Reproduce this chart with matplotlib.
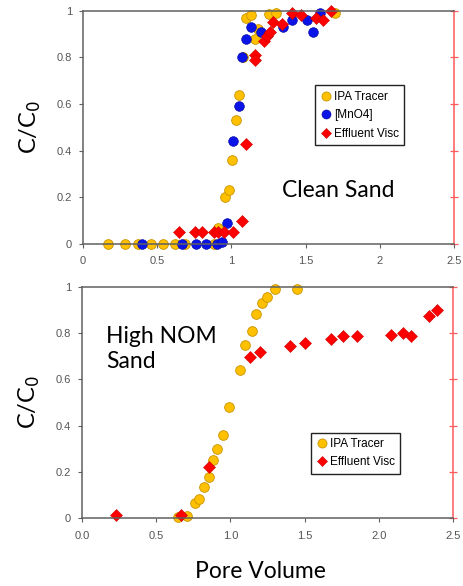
import numpy as np
import matplotlib
matplotlib.use("Agg")
import matplotlib.pyplot as plt
from matplotlib.lines import Line2D

# ---- data ----
# top panel: clean sand
ipa_clean_x = [0.17, 0.28, 0.37, 0.46, 0.54, 0.62, 0.69, 0.88, 0.91, 0.96, 0.985, 1.007,
               1.03, 1.054, 1.08, 1.10, 1.13, 1.16, 1.18, 1.25, 1.30, 1.70]
ipa_clean_y = [0.0, 0.0, 0.0, 0.0, 0.0, 0.0, 0.0, 0.0, 0.07, 0.20, 0.23, 0.36,
               0.53, 0.64, 0.80, 0.97, 0.98, 0.88, 0.92, 0.985, 0.99, 0.99]
mno4_x = [0.40, 0.67, 0.76, 0.83, 0.90, 0.935, 0.97, 1.01, 1.05, 1.07, 1.10, 1.13,
          1.20, 1.35, 1.41, 1.51, 1.55, 1.60]
mno4_y = [0.0, 0.0, 0.0, 0.0, 0.0, 0.01, 0.09, 0.44, 0.59, 0.80, 0.88, 0.93,
          0.91, 0.93, 0.96, 0.96, 0.91, 0.99]
visc_clean_x = [0.65, 0.755, 0.80, 0.88, 0.91, 0.95, 1.01, 1.07, 1.10, 1.16, 1.16, 1.22,
                1.24, 1.26, 1.28, 1.34, 1.41, 1.47, 1.57, 1.62, 1.67]
visc_clean_y = [0.05, 0.05, 0.05, 0.05, 0.05, 0.05, 0.05, 0.10, 0.43, 0.81, 0.79, 0.87,
                0.89, 0.91, 0.95, 0.945, 0.99, 0.98, 0.97, 0.96, 1.0]

# bottom panel: high NOM sand
ipa_nom_x = [0.65, 0.71, 0.76, 0.79, 0.82, 0.856, 0.885, 0.91, 0.95, 0.99, 1.067, 1.10,
             1.145, 1.17, 1.21, 1.25, 1.30, 1.45]
ipa_nom_y = [0.007, 0.01, 0.067, 0.083, 0.137, 0.18, 0.25, 0.30, 0.36, 0.48, 0.64, 0.75,
             0.81, 0.88, 0.93, 0.955, 0.99, 0.99]
visc_nom_x = [0.23, 0.667, 0.858, 1.13, 1.20, 1.40, 1.50, 1.68, 1.76, 1.85, 2.08, 2.16,
              2.22, 2.34, 2.39]
visc_nom_y = [0.014, 0.016, 0.22, 0.695, 0.72, 0.745, 0.755, 0.775, 0.785, 0.785, 0.79, 0.80,
              0.785, 0.875, 0.90]

yticks = [0, 0.2, 0.4, 0.6, 0.8, 1]
ytick_labels = ["0", "0.2", "0.4", "0.6", "0.8", "1"]
xticks = [0, 0.5, 1, 1.5, 2, 2.5]
xlabels_top = ["0", "0.5", "1", "1.5", "2", "2.5"]
xlabels_bot = ["0.0", "0.5", "1.0", "1.5", "2.0", "2.5"]

YELLOW = "#FFC000"
YEDGE = "#C89400"
BLUE = "#0A14E6"
RED = "#FF0000"
LABEL_FONT = ["Lato", "DejaVu Sans"]
TICK_FONT = ["Liberation Sans", "DejaVu Sans"]

fig = plt.figure(figsize=(4.64, 5.86), dpi=100)
ax1 = fig.add_axes([83 / 464, 1 - 244 / 586, 371 / 464, 233.3 / 586])
ax2 = fig.add_axes([82 / 464, 1 - 518.3 / 586, 371 / 464, 231.6 / 586])


def style_axes(ax, xlabels):
    ax.set_xlim(0, 2.5)
    ax.set_ylim(0, 1)
    ax.set_xticks(xticks)
    ax.set_xticklabels(xlabels, family=TICK_FONT, fontsize=8, color="#555555")
    ax.set_yticks(yticks)
    ax.set_yticklabels(ytick_labels, family=TICK_FONT, fontsize=8, color="#555555")
    for s in ["left", "bottom", "top"]:
        ax.spines[s].set_color("#606060")
        ax.spines[s].set_linewidth(1.1)
    ax.spines["right"].set_visible(False)
    ax.tick_params(axis="x", length=3, width=0.8, color="#606060", pad=6)
    ax.tick_params(axis="y", length=3, width=0.8, color="#606060", pad=5)
    # secondary right axis in light red, no labels
    r = ax.twinx()
    r.set_ylim(0, 1)
    r.set_yticks(yticks)
    r.set_yticklabels([])
    for s in ["left", "bottom", "top"]:
        r.spines[s].set_visible(False)
    r.spines["right"].set_color("#FF5A5A")
    r.spines["right"].set_linewidth(1.1)
    r.tick_params(axis="y", direction="inout", length=6, width=0.9, color="#FF5A5A")
    ax.set_zorder(r.get_zorder() + 1)
    ax.patch.set_visible(False)
    ax.set_ylabel("C/C$_0$", family=LABEL_FONT, fontsize=17, labelpad=10)


def dots(ax, x, y, **kw):
    ax.plot(x, y, linestyle="none", clip_on=False, **kw)


style_axes(ax1, xlabels_top)
dots(ax1, ipa_clean_x, ipa_clean_y, marker="o", ms=7, mfc=YELLOW, mec=YEDGE, mew=0.6, label="IPA Tracer")
dots(ax1, mno4_x, mno4_y, marker="o", ms=7, mfc=BLUE, mec="#000099", mew=0.4, label="[MnO4]")
dots(ax1, visc_clean_x, visc_clean_y, marker="D", ms=6.2, mfc=RED, mec="#CC0000", mew=0.4, label="Effluent Visc")
ax1.text(1.72, 0.23, "Clean Sand", family=LABEL_FONT, fontsize=16.5, ha="center", va="center")
h1 = [Line2D([], [], ls="none", marker="o", ms=6.5, mfc=YELLOW, mec=YEDGE, mew=0.6),
      Line2D([], [], ls="none", marker="o", ms=6.5, mfc=BLUE, mec="#000099", mew=0.4),
      Line2D([], [], ls="none", marker="D", ms=5.5, mfc=RED, mec="#CC0000", mew=0.4)]
leg1 = ax1.legend(h1, ["IPA Tracer", "[MnO4]", "Effluent Visc"], loc="upper left",
                  bbox_to_anchor=(0.625, 0.68), fancybox=False, framealpha=1,
                  edgecolor="#222222", handletextpad=0.15, handlelength=1.0,
                  borderpad=0.45, labelspacing=0.55, borderaxespad=0,
                  prop={"family": TICK_FONT, "size": 8.5})
leg1.get_frame().set_linewidth(1.0)

style_axes(ax2, xlabels_bot)
dots(ax2, ipa_nom_x, ipa_nom_y, marker="o", ms=7, mfc=YELLOW, mec=YEDGE, mew=0.6)
dots(ax2, visc_nom_x, visc_nom_y, marker="D", ms=6.2, mfc=RED, mec="#CC0000", mew=0.4)
ax2.text(0.16, 0.83, "High NOM\nSand", family=LABEL_FONT, fontsize=16.5, ha="left", va="top",
         linespacing=1.25)
h2 = [h1[0], h1[2]]
leg2 = ax2.legend(h2, ["IPA Tracer", "Effluent Visc"], loc="upper left",
                  bbox_to_anchor=(0.617, 0.368), fancybox=False, framealpha=1,
                  edgecolor="#222222", handletextpad=0.15, handlelength=1.0,
                  borderpad=0.45, labelspacing=0.5, borderaxespad=0,
                  prop={"family": TICK_FONT, "size": 8.5})
leg2.get_frame().set_linewidth(1.0)

fig.text(260 / 464, 1 - 572 / 586, "Pore Volume", family=LABEL_FONT, fontsize=16.5,
         ha="center", va="center")

fig.savefig("out.png", dpi=100)
